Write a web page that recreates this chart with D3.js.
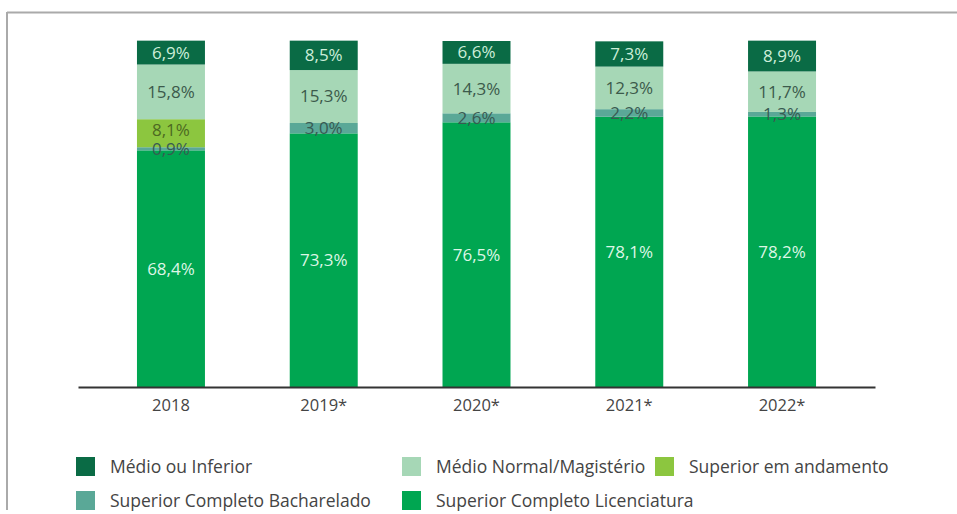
<!DOCTYPE html>
<html>
<head>
<meta charset="utf-8">
<script src="https://cdn.jsdelivr.net/npm/d3@7"></script>
<style>
  html, body { margin: 0; padding: 0; background: #ffffff; }
  svg { display: block; }
</style>
</head>
<body>
<svg id="chart" width="957" height="514"></svg>
<script>
const years = ["2018", "2019*", "2020*", "2021*", "2022*"];
const seriesNames = ["Superior Completo Licenciatura", "Superior Completo Bacharelado", "Superior em andamento", "Médio Normal/Magistério", "Médio ou Inferior"];
const licenciatura = [68.4, 73.3, 76.5, 78.1, 78.2];
const bacharelado = [0.9, 3.0, 2.6, 2.2, 1.3];
const andamento = [8.1, 0, 0, 0, 0];
const medioNormal = [15.8, 15.3, 14.3, 12.3, 11.7];
const medioInferior = [6.9, 8.5, 6.6, 7.3, 8.9];
const colors = ["#00a651", "#5aa897", "#8cc63f", "#a6d7b6", "#0a6b45"];
const labelColors = ["#ddf6e6", "#385a52", "#4d6a22", "#3c5a4b", "#cdeed9"];
const legendOrder = [
  ["Médio ou Inferior", "#0a6b45"],
  ["Médio Normal/Magistério", "#a6d7b6"],
  ["Superior em andamento", "#8cc63f"],
  ["Superior Completo Bacharelado", "#5aa897"],
  ["Superior Completo Licenciatura", "#00a651"]
];

const svg = d3.select("#chart");
const FONT = "'Open Sans', sans-serif";

// frame lines
svg.append("line").attr("x1", 7).attr("x2", 957).attr("y1", 12.5).attr("y2", 12.5)
  .attr("stroke", "#aaaaaa").attr("stroke-width", 2);
svg.append("line").attr("x1", 7).attr("x2", 7).attr("y1", 12).attr("y2", 510)
  .attr("stroke", "#aaaaaa").attr("stroke-width", 2);

const valuesBySeries = [licenciatura, bacharelado, andamento, medioNormal, medioInferior];
const data = years.map((y, i) => {
  const o = { year: y };
  seriesNames.forEach((s, k) => { o[s] = valuesBySeries[k][i]; });
  return o;
});

const x = d3.scaleBand().domain(years).range([78, 875]).paddingInner(0.555).paddingOuter(0.386);
const y = d3.scaleLinear().domain([0, 100]).range([387, 41]);

const stack = d3.stack().keys(seriesNames);
const stacked = stack(data);

const g = svg.append("g");
stacked.forEach((layer, k) => {
  g.append("g").attr("fill", colors[k])
    .selectAll("rect").data(layer).join("rect")
    .attr("x", d => x(d.data.year))
    .attr("width", x.bandwidth())
    .attr("y", d => y(d[1]))
    .attr("height", d => Math.max(0, y(d[0]) - y(d[1])));
});

// labels
const fmt = v => v.toFixed(1).replace(".", ",") + "%";
stacked.forEach((layer, k) => {
  g.append("g").selectAll("text").data(layer.filter(d => d[1] - d[0] > 0)).join("text")
    .attr("x", d => x(d.data.year) + x.bandwidth() / 2)
    .attr("y", d => (y(d[0]) + y(d[1])) / 2 + (k === 2 ? -3 : 0))
    .attr("dy", "0.35em")
    .attr("text-anchor", "middle")
    .attr("font-family", FONT)
    .attr("font-size", 17)
    .attr("fill", labelColors[k])
    .text(d => fmt(d[1] - d[0]));
});

// axis
const axis = svg.append("g").attr("transform", "translate(0,387)")
  .call(d3.axisBottom(x).tickSize(0).tickPadding(12));
axis.select(".domain").attr("stroke", "#333333").attr("stroke-width", 2);
axis.selectAll("text").attr("font-family", FONT).attr("font-size", 16.5).attr("fill", "#444444");

// legend
const legendPos = [[76, 457], [402, 457], [655, 457], [76, 491], [402, 491]];
const lg = svg.append("g");
legendOrder.forEach((item, i) => {
  const [lx, ly] = legendPos[i];
  lg.append("rect").attr("x", lx).attr("y", ly).attr("width", 19).attr("height", 19).attr("fill", item[1]);
  lg.append("text").attr("x", lx + 34).attr("y", ly + 9.5).attr("dy", "0.35em")
    .attr("font-family", FONT).attr("font-size", 17.5).attr("fill", "#444444").text(item[0]);
});
</script>
</body>
</html>
